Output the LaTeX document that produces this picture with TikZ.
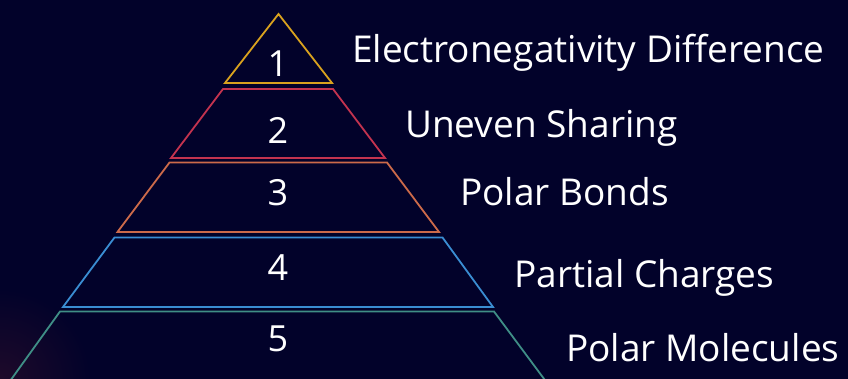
\documentclass[tikz,border=0pt]{standalone}
\usepackage{fontspec}
\setmainfont{Open Sans}
\definecolor{bgc}{HTML}{02022A}
\definecolor{glowc}{HTML}{1E0A2A}
\definecolor{cA}{HTML}{D9A21E}
\definecolor{cB}{HTML}{C3334F}
\definecolor{cC}{HTML}{CC6A4A}
\definecolor{cD}{HTML}{3A8DD2}
\definecolor{cE}{HTML}{3F8E86}
\tikzset{
  layer/.style={line width=1.8pt, line join=miter},
  num/.style={text=white, font=\fontsize{36}{40}\selectfont, anchor=base, inner sep=0pt},
  lbl/.style={text=white, font=\fontsize{37}{42}\selectfont, anchor=base west, inner sep=0pt}
}
\begin{document}
\begin{tikzpicture}[x=1pt,y=-1pt]
\useasboundingbox (0,0) rectangle (848,379);
\fill[bgc] (0,0) rectangle (848,379);
\begin{scope}
\clip (0,0) rectangle (848,379);
\shade[inner color=glowc, outer color=bgc] (0,379) circle (90);
\draw[layer, cE] (60,311.5) -- (494,311.5) -- (556,395) -- (0,395) -- cycle;
\end{scope}
\draw[layer, cA] (278.5,14) -- (332,83) -- (225,83) -- cycle;
\draw[layer, cB] (223,89) -- (333,89) -- (385,158) -- (171,158) -- cycle;
\draw[layer, cC] (169.5,162.5) -- (387,162.5) -- (439,232) -- (117.5,232) -- cycle;
\draw[layer, cD] (114.5,237.5) -- (442.5,237.5) -- (493,307) -- (63,307) -- cycle;
\node[num] (n1) at (278,77) {1};
\node[num] (n2) at (278,143.5) {2};
\node[num] (n3) at (278,206) {3};
\node[num] (n4) at (278,280) {4};
\node[num] (n5) at (278,351.5) {5};
\node[lbl] (t1) at (352,63) {Electronegativity Difference};
\node[lbl] (t2) at (405,137.5) {Uneven Sharing};
\node[lbl] (t3) at (460,206) {Polar Bonds};
\node[lbl] (t4) at (514,287.5) {Partial Charges};
\node[lbl] (t5) at (566,361.5) {Polar Molecules};
\end{tikzpicture}
\end{document}
